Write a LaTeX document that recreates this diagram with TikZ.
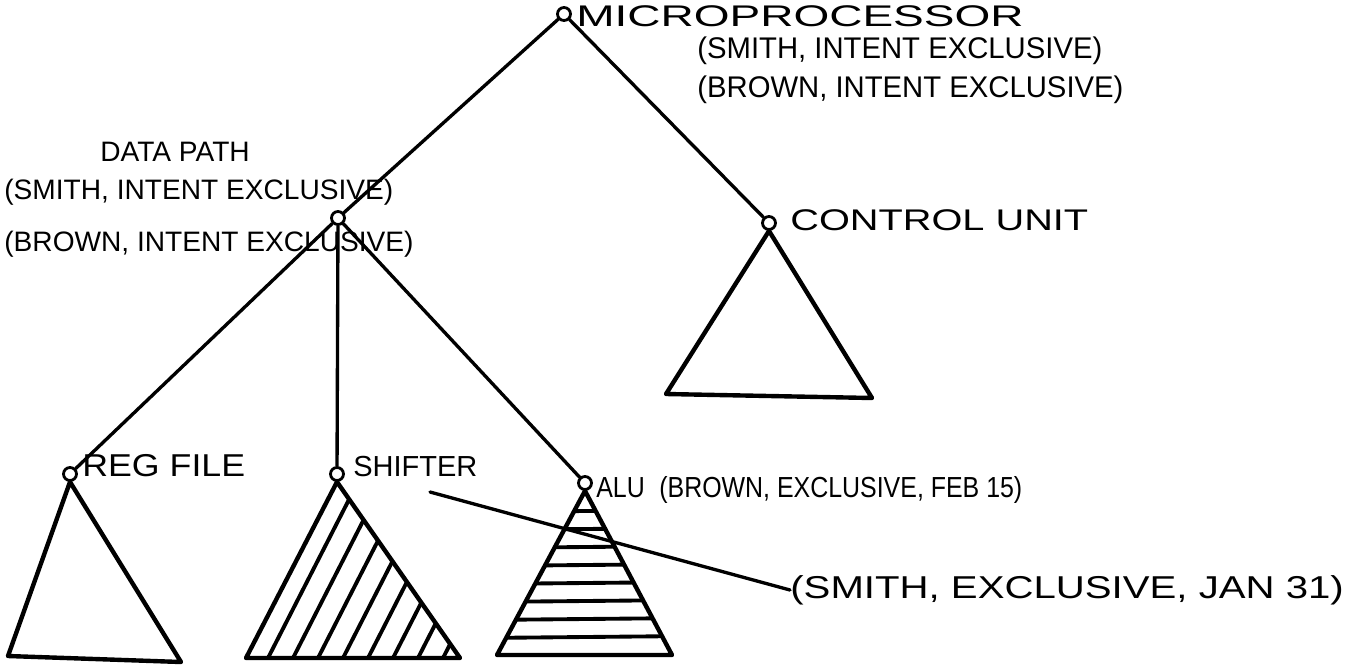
\documentclass[tikz,border=0pt]{standalone}
\usepackage{fontspec}
\setmainfont{Liberation Sans}
\usetikzlibrary{positioning}
\newcommand{\hand}[2]{\fontsize{#1}{#1}\selectfont\addfontfeature{FakeStretch=#2}}

\begin{document}
\begin{tikzpicture}[x=0.02cm,y=-0.02cm,line cap=round,line join=round,
    vtx/.style={circle,draw,line width=1.6pt,fill=white,inner sep=0pt,minimum size=0.26cm},
    edge/.style={line width=1.9pt},
    tri/.style={line width=2.5pt},
    hatch/.style={line width=2.2pt},
    lbl/.style={anchor=west,inner sep=0pt}]
  \useasboundingbox (0,0) rectangle (1354,666);

  % tree of parts
  \node[vtx] (mp) at (564,14) {};
  \node[vtx] (dp) at (338,218) {};
  \node[vtx] (cu) at (769,223) {};
  \node[vtx] (rf) at (70,474) {};
  \node[vtx] (sh) at (337,474) {};
  \node[vtx] (alu) at (585,483) {};

  \draw[edge] (mp) -- (dp);
  \draw[edge] (mp) -- (cu);
  \draw[edge] (dp) -- (rf);
  \draw[edge] (dp) -- (sh);
  \draw[edge] (dp) -- (alu);

  % subtrees
  \coordinate (cuL) at (666,394);
  \coordinate (cuR) at (872,398);
  \draw[tri] (cu.south) -- (cuL) -- (cuR) -- cycle;

  \coordinate (rfL) at (8,656);
  \coordinate (rfR) at (181,662);
  \draw[tri] (rf.south) -- (rfL) -- (rfR) -- cycle;

  \coordinate (shL) at (246,658);
  \coordinate (shR) at (460,658);
  \begin{scope}
    \clip (sh.south) -- (shL) -- (shR) -- cycle;
    \foreach \k in {0,...,7}
      \draw[hatch] (268+25*\k,658) -- ++(91,-178);
  \end{scope}
  \draw[tri] (sh.south) -- (shL) -- (shR) -- cycle;

  \coordinate (aluL) at (497,655);
  \coordinate (aluR) at (672,655);
  \begin{scope}
    \clip (alu.south) -- (aluL) -- (aluR) -- cycle;
    \foreach \y in {512,530,...,640}
      \draw[hatch] (480,\y) -- (690,\y-2);
  \end{scope}
  \draw[tri] (alu.south) -- (aluL) -- (aluR) -- cycle;

  % labels
  \node[lbl,font=\hand{17}{1.54}] (mpl) at (576,16) {MICROPROCESSOR};
  \node[lbl,font=\hand{17}{0.98}] (mpn1) at (697,51) {(SMITH, INTENT EXCLUSIVE)};
  \node[lbl,font=\hand{17}{0.98}] (mpn2) at (697,90) {(BROWN, INTENT EXCLUSIVE)};
  \node[lbl,font=\hand{16}{1}] (dpl) at (100,152) {DATA PATH};
  \node[lbl,font=\hand{16}{1}] (dpn1) at (4,192) {(SMITH, INTENT EXCLUSIVE)};
  \node[lbl,font=\hand{16}{1}] (dpn2) at (4,244) {(BROWN, INTENT EXCLUSIVE)};
  \node[lbl,font=\hand{17}{1.33}] (cul) at (790,220) {CONTROL UNIT};
  \node[lbl,font=\hand{18}{1.13}] (rfl) at (82,466) {REG FILE};
  \node[lbl,font=\hand{16.5}{1}] (shl) at (353,467) {SHIFTER};
  \node[lbl,font=\hand{16.5}{0.86}] (alul) at (596,490) {ALU\enspace(BROWN, EXCLUSIVE, FEB 15)};
  \node[lbl,font=\hand{18}{1.27}] (jan) at (790,590) {(SMITH, EXCLUSIVE, JAN 31)};

  \coordinate (shp) at (430,492);
  \draw[edge] (shp) -- (jan.west);
\end{tikzpicture}
\end{document}
